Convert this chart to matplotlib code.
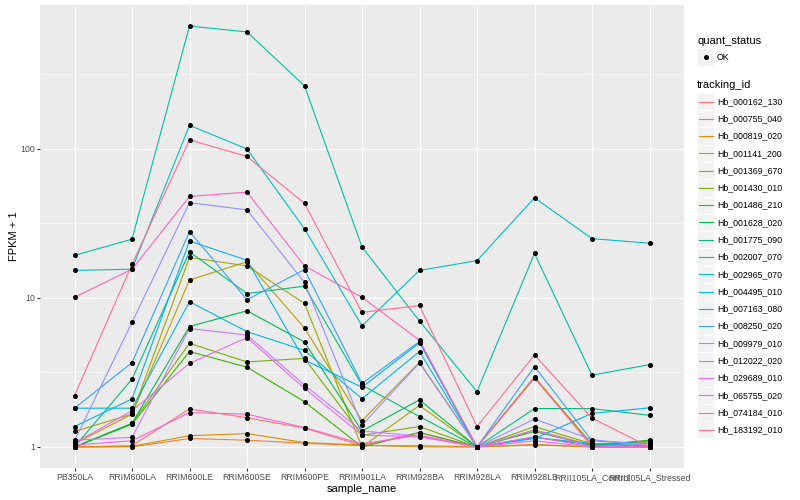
import numpy as np
import matplotlib
matplotlib.use("Agg")
import matplotlib.pyplot as plt
from matplotlib.lines import Line2D
from matplotlib.patches import Rectangle

plt.rcParams['font.family'] = ['Liberation Sans', 'DejaVu Sans']

samples = ["PB350LA", "RRIM600LA", "RRIM600LE", "RRIM600SE", "RRIM600PE", "RRIM901LA",
           "RRIM928BA", "RRIM928LA", "RRIM928LB", "RRII105LA_Control", "RRII105LA_Stressed"]

tracking_ids = ["Hb_000162_130", "Hb_000755_040", "Hb_000819_020", "Hb_001141_200",
                "Hb_001369_670", "Hb_001430_010", "Hb_001486_210", "Hb_001628_020",
                "Hb_001775_090", "Hb_002007_070", "Hb_002965_070", "Hb_004495_010",
                "Hb_007163_080", "Hb_008250_020", "Hb_009979_010", "Hb_012022_020",
                "Hb_029689_010", "Hb_065755_020", "Hb_074184_010", "Hb_183192_010"]

hb_000162_130 = [1.00, 1.02, 1.80, 1.57, 1.34, 1.02, 1.25, 1.00, 1.30, 1.03, 1.00]
hb_000755_040 = [1.00, 1.00, 1.14, 1.11, 1.06, 1.02, 1.02, 1.00, 1.04, 1.00, 1.00]
hb_000819_020 = [1.00, 1.01, 1.19, 1.23, 1.07, 1.03, 1.00, 1.00, 1.03, 1.00, 1.00]
hb_001141_200 = [1.05, 1.66, 13.2, 17.5, 6.28, 1.50, 3.70, 1.00, 2.96, 1.03, 1.00]
hb_001369_670 = [1.27, 1.66, 18.7, 16.4, 9.20, 1.00, 1.90, 1.00, 2.89, 1.05, 1.02]
hb_001430_010 = [1.00, 1.44, 4.96, 3.72, 3.93, 1.20, 1.37, 1.00, 1.37, 1.05, 1.08]
hb_001486_210 = [1.00, 1.42, 4.37, 3.43, 2.01, 1.00, 1.25, 1.00, 1.27, 1.02, 1.11]
hb_001628_020 = [1.00, 1.44, 6.43, 8.20, 5.06, 1.28, 2.07, 1.00, 1.16, 1.03, 1.10]
hb_001775_090 = [1.00, 2.85, 20.4, 10.7, 12.0, 2.60, 1.60, 1.00, 1.81, 1.81, 1.63]
hb_002007_070 = [19.3, 24.8, 668., 610., 265., 22.0, 7.00, 2.35, 19.9, 3.03, 3.57]
hb_002965_070 = [15.3, 15.6, 144., 100., 29.1, 6.50, 15.3, 17.8, 47.0, 25.0, 23.3]
hb_004495_010 = [1.82, 1.82, 9.43, 5.94, 4.45, 2.11, 4.37, 1.00, 1.16, 1.05, 1.02]
hb_007163_080 = [1.37, 2.10, 24.1, 17.9, 3.83, 2.52, 5.00, 1.00, 1.14, 1.68, 1.83]
hb_008250_020 = [1.82, 3.68, 27.9, 9.73, 15.5, 2.67, 5.10, 1.00, 3.46, 1.10, 1.05]
hb_009979_010 = [1.10, 6.86, 43.6, 39.0, 12.7, 1.40, 3.67, 1.00, 1.54, 1.12, 1.02]
hb_012022_020 = [1.11, 1.16, 6.23, 5.64, 2.60, 1.28, 1.18, 1.00, 1.30, 1.00, 1.00]
hb_029689_010 = [1.06, 1.75, 3.64, 5.42, 2.47, 1.20, 1.17, 1.00, 1.10, 1.00, 1.00]
hb_065755_020 = [1.03, 1.10, 1.70, 1.66, 1.35, 1.05, 1.20, 1.00, 1.17, 1.00, 1.00]
hb_074184_010 = [10.1, 15.6, 48.0, 51.3, 16.4, 10.1, 5.20, 1.00, 2.92, 1.00, 1.00]
hb_183192_010 = [2.21, 16.8, 115., 89.0, 43.1, 8.00, 8.90, 1.37, 4.14, 1.56, 1.00]

series = [hb_000162_130, hb_000755_040, hb_000819_020, hb_001141_200, hb_001369_670,
          hb_001430_010, hb_001486_210, hb_001628_020, hb_001775_090, hb_002007_070,
          hb_002965_070, hb_004495_010, hb_007163_080, hb_008250_020, hb_009979_010,
          hb_012022_020, hb_029689_010, hb_065755_020, hb_074184_010, hb_183192_010]

colors = ["#F8766D", "#EA8331", "#D89000", "#C09B00", "#A3A500", "#7CAE00", "#39B600",
          "#00BB4E", "#00BF7D", "#00C1A3", "#00BFC4", "#00BAE0", "#00B0F6", "#35A2FF",
          "#9590FF", "#C77CFF", "#E76BF3", "#FA62DB", "#FF62BC", "#FF6C91"]

W, H = 800, 500
fig = plt.figure(figsize=(W / 100, H / 100), dpi=100)
pl, pr, pt, pb = 40, 684, 5, 468
ax = fig.add_axes([pl / W, 1 - pb / H, (pr - pl) / W, (pb - pt) / H])
ax.set_facecolor("#EBEBEB")
for s in ax.spines.values():
    s.set_visible(False)

x = np.arange(len(samples))
for vals, c in zip(series, colors):
    ax.plot(x, vals, color=c, lw=0.8, zorder=3, solid_capstyle='butt')
for vals in series:
    ax.plot(x, vals, linestyle='none', marker='o', ms=2.6, color='black', zorder=4)

ax.set_yscale('log')
allv = np.log10(np.concatenate([np.array(v) for v in series]))
lo, hi = allv.min(), allv.max()
pad = 0.05 * (hi - lo)
ax.set_ylim(10 ** (lo - pad), 10 ** (hi + pad))
ax.set_xlim(-0.6, len(samples) - 1 + 0.6)

ax.set_yticks([1, 10, 100])
ax.set_yticklabels(["1", "10", "100"])
ax.set_yticks([10 ** 0.5, 10 ** 1.5, 10 ** 2.5], minor=True)
ax.set_yticklabels([], minor=True)
ax.set_xticks(x)
ax.set_xticklabels(samples)
ax.tick_params(axis='both', which='major', length=2.0, width=0.8, color="#333333",
               labelsize=6.3, labelcolor="#4D4D4D", pad=1.5)
ax.tick_params(axis='both', which='minor', length=0)
ax.grid(True, which='major', color='white', lw=0.8, zorder=0)
ax.grid(True, which='minor', axis='y', color='white', lw=0.4, zorder=0)
ax.set_axisbelow(True)

ax.set_xlabel("sample_name", fontsize=8, labelpad=1.5)
ax.set_ylabel("FPKM + 1", fontsize=8, labelpad=1)

# legends (drawn in figure pixel coordinates)
def fx(px):
    return px / W

def fy(py):
    return 1 - py / H

key = 17.28
kx0 = 697
tx = 717
fig.text(fx(kx0), fy(41), "quant_status", fontsize=8, va='center', ha='left')
ky = 57
fig.add_artist(Rectangle((fx(kx0), fy(ky + key / 2)), key / W, key / H,
                         transform=fig.transFigure, facecolor="#F2F2F2", edgecolor='white', lw=0.8))
fig.add_artist(Line2D([fx(kx0 + key / 2)], [fy(ky)], transform=fig.transFigure,
                      marker='o', ms=2.6, color='black', linestyle='none'))
fig.text(fx(tx), fy(ky), "OK", fontsize=6.3, va='center', ha='left')

fig.text(fx(kx0), fy(84.5), "tracking_id", fontsize=8, va='center', ha='left')
for i, (tid, c) in enumerate(zip(tracking_ids, colors)):
    cy = 101.5 + i * key
    fig.add_artist(Rectangle((fx(kx0), fy(cy + key / 2)), key / W, key / H,
                             transform=fig.transFigure, facecolor="#F2F2F2", edgecolor='white', lw=0.8))
    fig.add_artist(Line2D([fx(kx0 + 1.7), fx(kx0 + key - 1.7)], [fy(cy), fy(cy)],
                          transform=fig.transFigure, color=c, lw=0.8))
    fig.text(fx(tx), fy(cy), tid, fontsize=6.3, va='center', ha='left')

fig.savefig("out.png", dpi=100)
